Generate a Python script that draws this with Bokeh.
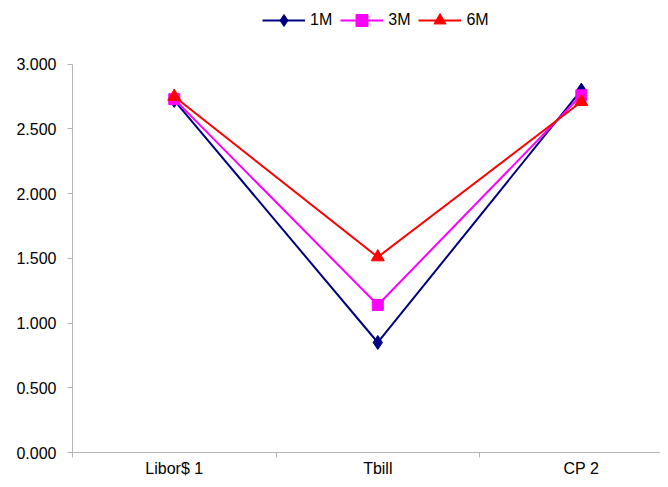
from bokeh.plotting import figure
from bokeh.models import Range1d, FixedTicker, Legend, LegendItem, NumeralTickFormatter
from bokeh.embed import file_html
from bokeh.resources import INLINE

categories = ["Libor$ 1", "Tbill", "CP 2"]
series_names = ["1M", "3M", "6M"]
values_1m = [2.72, 0.85, 2.80]
values_3m = [2.73, 1.14, 2.76]
values_6m = [2.75, 1.51, 2.71]
y_ticks = [0.0, 0.5, 1.0, 1.5, 2.0, 2.5, 3.0]

x_pos = [i + 0.5 for i in range(len(categories))]

p = figure(width=660, height=479, output_backend="svg", toolbar_location=None,
           x_range=Range1d(0, 2.889), y_range=Range1d(0, 3.4923),
           min_border_left=72, min_border_right=0, min_border_top=0, min_border_bottom=25)
p.outline_line_color = None
p.grid.grid_line_color = None
p.background_fill_color = "white"
p.border_fill_color = "white"

font = "Liberation Sans"
axis_color = "#b4b4b4"

p.yaxis.ticker = FixedTicker(ticks=y_ticks)
p.yaxis.bounds = (0, 3.0)
p.yaxis.formatter = NumeralTickFormatter(format="0.000")
p.yaxis.axis_line_color = axis_color
p.yaxis.major_tick_line_color = axis_color
p.yaxis.major_tick_out = 5
p.yaxis.major_tick_in = 0
p.yaxis.minor_tick_line_color = None
p.yaxis.major_label_text_font = font
p.yaxis.major_label_text_font_size = "16px"
p.yaxis.major_label_text_color = "black"
p.yaxis.major_label_standoff = 11

p.xaxis.ticker = FixedTicker(ticks=x_pos, minor_ticks=[0, 1, 2])
p.xaxis.major_label_overrides = {x: c for x, c in zip(x_pos, categories)}
p.xaxis.axis_line_color = axis_color
p.xaxis.major_tick_line_color = None
p.xaxis.minor_tick_line_color = axis_color
p.xaxis.minor_tick_out = 5
p.xaxis.minor_tick_in = 0
p.xaxis.major_tick_out = 0
p.xaxis.major_tick_in = 0
p.xaxis.major_label_text_font = font
p.xaxis.major_label_text_font_size = "16px"
p.xaxis.major_label_text_color = "black"
p.xaxis.major_label_standoff = 2

styles = [
    ("#000080", "diamond", 14, values_1m),
    ("#FF00FF", "square", 11, values_3m),
    ("#FF0000", "triangle", 13, values_6m),
]
items = []
for name, (color, marker, size, vals) in zip(series_names, styles):
    l = p.line(x_pos, vals, line_color=color, line_width=2)
    s = p.scatter(x_pos, vals, marker=marker, size=size, fill_color=color, line_color=color)
    items.append(LegendItem(label=name, renderers=[l, s]))

legend = Legend(items=items, orientation="horizontal", location=(190, 417),
                glyph_width=43, glyph_height=30, label_height=30, label_standoff=5,
                spacing=8, padding=0, margin=0, border_line_color=None,
                background_fill_alpha=0, label_text_font=font,
                label_text_font_size="16px", label_text_color="black")
p.add_layout(legend, "center")

open("out.html", "w").write(file_html(p, INLINE))
